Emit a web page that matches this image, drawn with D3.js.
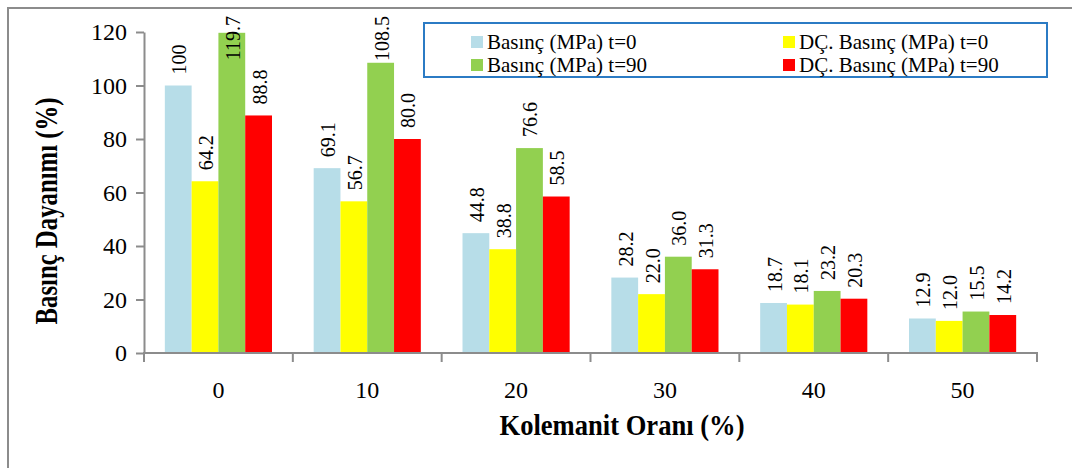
<!DOCTYPE html>
<html>
<head>
<meta charset="utf-8">
<script src="https://cdn.jsdelivr.net/npm/d3@7"></script>
<style>
  html, body { margin: 0; padding: 0; background: #fff; }
  svg { display: block; }
</style>
</head>
<body>
<svg id="chart" width="1072" height="468"></svg>
<script>
// Kolemanit oranına göre basınç dayanımı
const categories = ["0", "10", "20", "30", "40", "50"];
const seriesNames = [
  "Basınç (MPa) t=0",
  "DÇ. Basınç (MPa) t=0",
  "Basınç (MPa) t=90",
  "DÇ. Basınç (MPa) t=90"
];
const basincT0   = [100, 69.1, 44.8, 28.2, 18.7, 12.9];
const dcBasincT0 = [64.2, 56.7, 38.8, 22.0, 18.1, 12.0];
const basincT90  = [119.7, 108.5, 76.6, 36.0, 23.2, 15.5];
const dcBasincT90 = [88.8, 80.0, 58.5, 31.3, 20.3, 14.2];
const seriesColors = ["#b7dde8", "#ffff00", "#92d050", "#ff0000"];
const yTicks = [0, 20, 40, 60, 80, 100, 120];

const seriesValues = [basincT0, dcBasincT0, basincT90, dcBasincT90];
const FONT = "'Liberation Serif', 'DejaVu Serif', serif";

const svg = d3.select("#chart");

// outer chart frame (left and top edges visible)
svg.append("path")
  .attr("d", "M8,468 V8 H1072")
  .attr("fill", "none")
  .attr("stroke", "#8c8c8c")
  .attr("stroke-width", 2);

const plot = { left: 144, right: 1037, top: 32, bottom: 353 };

const x = d3.scaleBand().domain(categories).range([plot.left, plot.right]).padding(0);
const groupW = x.bandwidth() * 0.72;
const xInner = d3.scaleBand().domain(d3.range(seriesNames.length)).range([0, groupW]).padding(0);
const y = d3.scaleLinear().domain([0, 120]).range([plot.bottom, plot.top]);

// bars
const groups = svg.append("g").selectAll("g")
  .data(categories)
  .join("g")
  .attr("transform", c => `translate(${x(c) + (x.bandwidth() - groupW) / 2},0)`);

groups.selectAll("rect")
  .data((c, ci) => seriesValues.map((vals, si) => ({ si, v: vals[ci] })))
  .join("rect")
  .attr("x", d => xInner(d.si))
  .attr("y", d => y(d.v))
  .attr("width", xInner.bandwidth())
  .attr("height", d => y(0) - y(d.v))
  .attr("fill", d => seriesColors[d.si]);

// value labels, rotated, kept inside the top of the plot area
const fmt = v => (v >= 100 && Number.isInteger(v)) ? String(v) : v.toFixed(1);
groups.selectAll("text.val")
  .data((c, ci) => seriesValues.map((vals, si) => ({ si, v: vals[ci] })))
  .join("text")
  .attr("class", "val")
  .style("font-family", FONT)
  .style("font-size", "20px")
  .attr("text-anchor", "start")
  .attr("dominant-baseline", "central")
  .text(d => fmt(d.v))
  .each(function (d) {
    const len = this.getComputedTextLength();
    let base = y(d.v) - 11;
    if (base - len < 16) base = 16 + len;
    const cx = xInner(d.si) + xInner.bandwidth() / 2 + 1;
    d3.select(this).attr("transform", `translate(${cx},${base}) rotate(-90)`);
  });

// y axis
const yAxis = svg.append("g")
  .attr("transform", `translate(${plot.left},0)`)
  .call(d3.axisLeft(y).tickValues(yTicks).tickSize(8).tickPadding(9).tickSizeOuter(0));
yAxis.select(".domain").attr("stroke", "#8c8c8c").attr("stroke-width", 2);
yAxis.selectAll(".tick line").attr("stroke", "#8c8c8c").attr("stroke-width", 2);
yAxis.selectAll(".tick text").style("font-family", FONT).style("font-size", "24px").attr("fill", "#000");

// x axis: baseline, tick marks between categories, centred labels
const xAxis = svg.append("g")
  .attr("transform", `translate(0,${plot.bottom})`)
  .call(d3.axisBottom(x).tickSize(0).tickPadding(28));
xAxis.select(".domain").remove();
xAxis.selectAll(".tick text").style("font-family", FONT).style("font-size", "24px").attr("fill", "#000");
svg.append("line")
  .attr("x1", plot.left - 1).attr("x2", plot.right + 1)
  .attr("y1", plot.bottom).attr("y2", plot.bottom)
  .attr("stroke", "#8c8c8c").attr("stroke-width", 2);
const bounds = categories.map(c => x(c)).concat([x(categories[categories.length - 1]) + x.bandwidth()]);
svg.append("g").selectAll("line")
  .data(bounds)
  .join("line")
  .attr("x1", d => d).attr("x2", d => d)
  .attr("y1", plot.bottom).attr("y2", plot.bottom + 9)
  .attr("stroke", "#8c8c8c").attr("stroke-width", 2);

// axis titles (tall, tightly set bold type)
svg.append("text")
  .attr("transform", "translate(57,211) rotate(-90)")
  .attr("text-anchor", "middle")
  .attr("textLength", 227)
  .attr("lengthAdjust", "spacingAndGlyphs")
  .style("font-family", FONT)
  .style("font-size", "31px")
  .style("font-weight", "bold")
  .text("Basınç Dayanımı (%)");

svg.append("text")
  .attr("x", 622)
  .attr("y", 435)
  .attr("text-anchor", "middle")
  .attr("textLength", 245)
  .attr("lengthAdjust", "spacingAndGlyphs")
  .style("font-family", FONT)
  .style("font-size", "29px")
  .style("font-weight", "bold")
  .text("Kolemanit Oranı (%)");

// legend
const legend = svg.append("g");
legend.append("rect")
  .attr("x", 424).attr("y", 23).attr("width", 623).attr("height", 54)
  .attr("fill", "#fff").attr("stroke", "#2b7bc4").attr("stroke-width", 2);
const legendPos = [[471, 42], [783, 42], [471, 65], [783, 65]];
const items = legend.selectAll("g.item")
  .data(seriesNames.map((n, i) => ({ n, i })))
  .join("g")
  .attr("class", "item")
  .attr("transform", d => `translate(${legendPos[d.i][0]},${legendPos[d.i][1]})`);
items.append("rect")
  .attr("x", 0).attr("y", -6).attr("width", 12).attr("height", 12)
  .attr("fill", d => seriesColors[d.i]);
items.append("text")
  .attr("x", 16).attr("y", 0)
  .attr("dominant-baseline", "central")
  .style("font-family", FONT)
  .style("font-size", "21px")
  .text(d => d.n);
</script>
</body>
</html>
